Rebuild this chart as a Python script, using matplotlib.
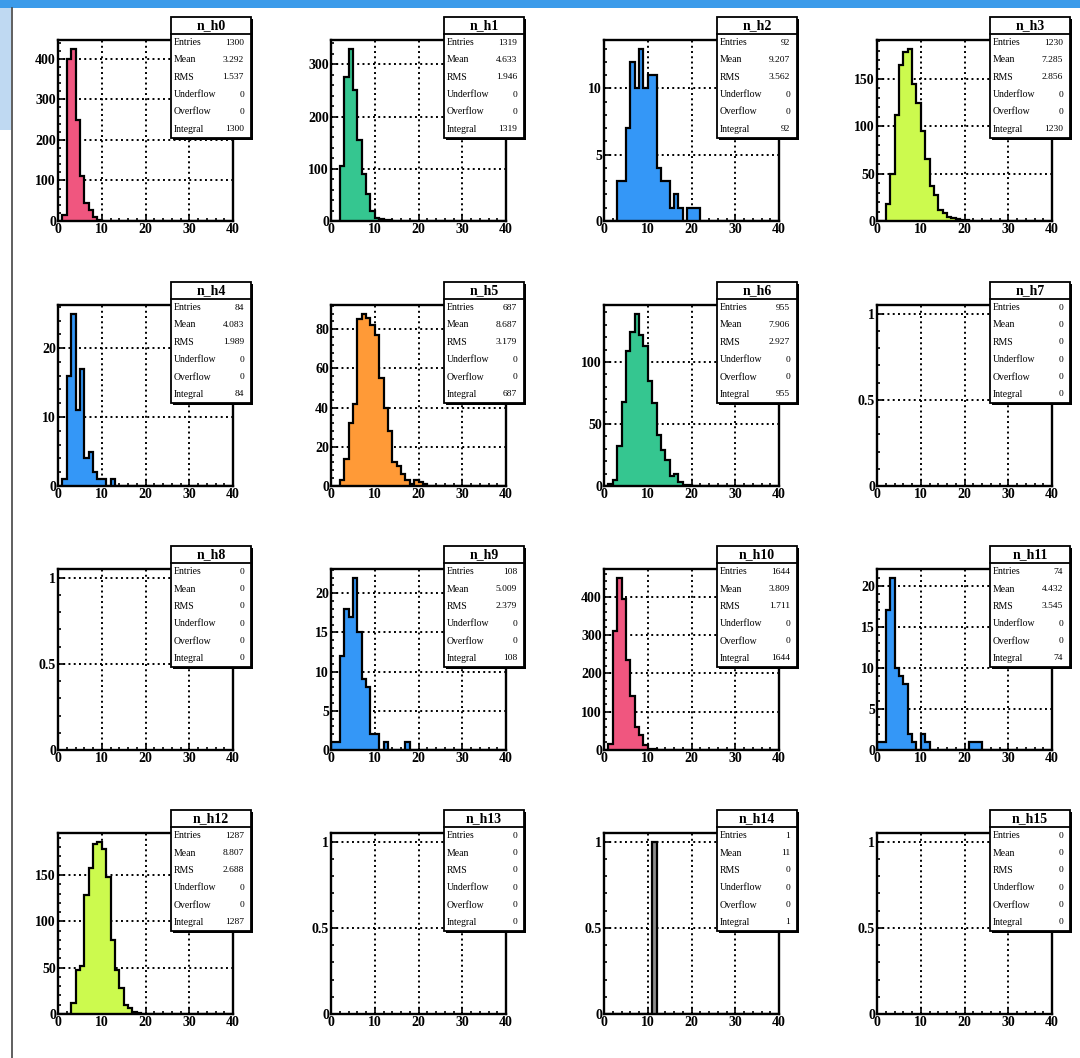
import numpy as np
import matplotlib
matplotlib.use("Agg")
import matplotlib.pyplot as plt
from matplotlib.ticker import MultipleLocator, AutoMinorLocator, FuncFormatter
from matplotlib.patches import Rectangle

# ---------------- data (bin contents, 1-unit bins starting at 0) ----------------
names = ["n_h%d" % i for i in range(16)]
h0 = [0, 15, 400, 425, 250, 110, 45, 28, 10, 2]
h1 = [0, 0, 105, 275, 330, 250, 155, 90, 52, 20, 5, 3, 2, 1]
h2 = [0, 0, 0, 3, 3, 7, 12, 10, 13, 10, 11, 11, 4, 3, 3, 1, 2, 1, 0, 1, 1, 1]
h3 = [0, 0, 18, 50, 112, 165, 178, 182, 145, 125, 95, 65, 37, 27, 12, 8, 4, 3, 2, 1, 1]
h4 = [0, 1, 16, 25, 11, 17, 4, 5, 2, 1, 1, 0, 1]
h5 = [0, 0, 3, 14, 32, 42, 85, 88, 86, 82, 77, 55, 40, 28, 12, 10, 6, 3, 1, 3, 2, 1]
h6 = [0, 2, 5, 32, 68, 109, 124, 139, 122, 113, 85, 67, 41, 29, 21, 8, 10, 3, 1, 1]
h7 = []
h8 = []
h9 = [1, 1, 12, 18, 17, 22, 15, 9, 8, 2, 2, 0, 1, 0, 0, 0, 0, 1]
h10 = [0, 15, 310, 450, 395, 235, 140, 61, 39, 12, 3, 2]
h11 = [1, 1, 17, 21, 10, 9, 8, 2, 1, 0, 2, 1, 0, 0, 0, 0, 0, 0, 0, 0, 0, 1, 1, 1]
h12 = [0, 0, 0, 12, 47, 52, 128, 158, 183, 186, 178, 148, 80, 48, 28, 10, 7, 2, 1]
h13 = []
h14 = [0, 0, 0, 0, 0, 0, 0, 0, 0, 0, 0, 1]
h15 = []
hists = [h0, h1, h2, h3, h4, h5, h6, h7, h8, h9, h10, h11, h12, h13, h14, h15]

fill_colors = ["#F0567F", "#35C690", "#3497F7", "#CCFA4E",
               "#3497F7", "#FF9A37", "#35C690", "#FFFFFF",
               "#FFFFFF", "#3497F7", "#F0567F", "#3497F7",
               "#CCFA4E", "#FFFFFF", "#8C8C8C", "#FFFFFF"]

y_major = [100, 100, 5, 50, 10, 20, 50, 0.5,
           0.5, 5, 100, 5, 50, 0.5, 0.5, 0.5]

stat_labels = ["Entries", "Mean", "RMS", "Underflow", "Overflow", "Integral"]
entries = ["1300", "1319", "92", "1230", "84", "687", "955", "0",
           "0", "108", "1644", "74", "1287", "0", "1", "0"]
means = ["3.292", "4.633", "9.207", "7.285", "4.083", "8.687", "7.906", "0",
         "0", "5.009", "3.809", "4.432", "8.807", "0", "11", "0"]
rmss = ["1.537", "1.946", "3.562", "2.856", "1.989", "3.179", "2.927", "0",
        "0", "2.379", "1.711", "3.545", "2.688", "0", "0", "0"]
underflows = ["0"] * 16
overflows = ["0"] * 16
integrals = entries

nbins = 40
edges = np.arange(0, nbins + 1)

# ---------------- figure ----------------
W, H = 1080, 1058
fig = plt.figure(figsize=(W / 100, H / 100), dpi=100)
fig.patch.set_facecolor("white")

serif = ["Liberation Serif", "DejaVu Serif"]

# decoration (screen-capture border)
fig.add_artist(Rectangle((0, 1 - 8 / H), 1, 8 / H, transform=fig.transFigure,
                         facecolor="#3C9BEA", edgecolor="none"))
fig.add_artist(Rectangle((0, 1 - 130 / H), 11 / W, 122 / H, transform=fig.transFigure,
                         facecolor="#BFD9F2", edgecolor="none"))
fig.add_artist(plt.Line2D([11.5 / W, 11.5 / W], [0, 1 - 8 / H], transform=fig.transFigure,
                          color="#444444", lw=1.2))

col_left = [58, 331, 604, 877]
row_top = [40, 305, 569, 833]
aw, ah = 175, 181

fmt = FuncFormatter(lambda v, p: "%g" % v)

for i in range(16):
    r, c = divmod(i, 4)
    L, T = col_left[c], row_top[r]
    ax = fig.add_axes([L / W, 1 - (T + ah) / H, aw / W, ah / H])
    vals = np.zeros(nbins)
    vals[:len(hists[i])] = hists[i]
    vmax = vals.max()
    top = 1.05 * vmax if vmax > 0 else 1.05

    if vmax > 0:
        ax.stairs(vals, edges, fill=True, color=fill_colors[i], zorder=2)
        ax.stairs(vals, edges, color="black", lw=1.6, baseline=0, zorder=3)

    ax.set_xlim(0, 40)
    ax.set_ylim(0, top)
    ax.xaxis.set_major_locator(MultipleLocator(10))
    ax.xaxis.set_minor_locator(MultipleLocator(2))
    ax.yaxis.set_major_locator(MultipleLocator(y_major[i]))
    ax.yaxis.set_minor_locator(AutoMinorLocator(5))
    ax.xaxis.set_major_formatter(fmt)
    ax.yaxis.set_major_formatter(fmt)
    ax.grid(True, which="major", color="black", lw=1.4, ls=(0, (1, 1.7)), zorder=1)
    ax.set_axisbelow(True)
    ax.tick_params(which="both", direction="in", top=False, right=False, width=1.2,
                   labelsize=10, pad=1.5)
    ax.tick_params(which="major", length=5)
    ax.tick_params(which="minor", length=2.5)
    for lab in ax.get_xticklabels() + ax.get_yticklabels():
        lab.set_fontfamily(serif)
        lab.set_fontweight("bold")
    for s in ax.spines.values():
        s.set_linewidth(1.7)
        s.set_zorder(4)

    # stats box (pixel offsets relative to the frame)
    bl, br = L + 113, L + 193
    bt, btb, bb = T - 23, T - 6, T + 98

    def fx(x):
        return x / W

    def fy(y):
        return 1 - y / H

    fig.add_artist(Rectangle((fx(bl + 2), fy(bb + 2)), fx(br - bl), fy(bt) - fy(bb),
                             transform=fig.transFigure, facecolor="black",
                             edgecolor="none", zorder=5))
    fig.add_artist(Rectangle((fx(bl), fy(bb)), fx(br - bl), fy(bt) - fy(bb),
                             transform=fig.transFigure, facecolor="white",
                             edgecolor="black", lw=1.3, zorder=6))
    fig.add_artist(plt.Line2D([fx(bl), fx(br)], [fy(btb), fy(btb)],
                              transform=fig.transFigure, color="black", lw=1.3, zorder=7))
    fig.text(fx((bl + br) / 2), fy((bt + btb) / 2), names[i], ha="center", va="center",
             fontsize=10, fontweight="bold", family=serif, zorder=8)
    vals_txt = [entries[i], means[i], rmss[i], underflows[i], overflows[i], integrals[i]]
    rowh = (bb - btb) / 6.0
    for k in range(6):
        yy = btb + rowh * (k + 0.5)
        fig.text(fx(bl + 3), fy(yy), stat_labels[k], ha="left", va="center",
                 fontsize=7.0, family=serif, zorder=8)
        fig.text(fx(br - 7), fy(yy), vals_txt[k], ha="right", va="center",
                 fontsize=6.8, family=serif, zorder=8)

fig.savefig("out.png", dpi=100)
